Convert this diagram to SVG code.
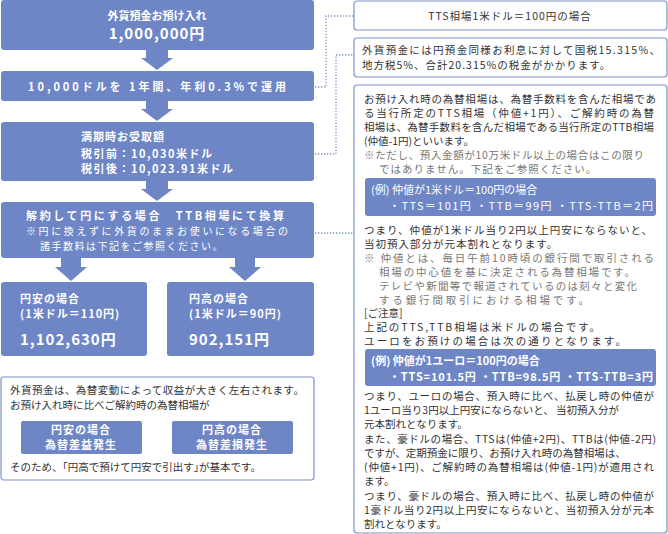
<svg xmlns="http://www.w3.org/2000/svg" width="668" height="534" viewBox="0 0 668 534">
<style>
.b{fill:#6e86c6}
.w{fill:#fff;font-family:"Noto Sans CJK JP","Liberation Sans",sans-serif;font-weight:bold;font-size:11px}
.big{font-size:15px;letter-spacing:1px}
.sm{font-size:10px;font-weight:normal}
.t{fill:#333;font-family:"Noto Sans CJK JP","Liberation Sans",sans-serif;font-size:10.5px}
.g{fill:#777;font-family:"Noto Sans CJK JP","Liberation Sans",sans-serif;font-size:10.5px}
.o{fill:#fff;stroke:#7e92c9;stroke-width:1.2}
.c{fill:none;stroke:#7e92c9;stroke-width:1.3;stroke-dasharray:1.3 1.7}
</style>
<rect width="668" height="534" fill="#fff"/>
<g id="connectors">
<polyline class="c" points="315,87 326,87 326,16 354,16"/>
<polyline class="c" points="315,154 336,154 336,55 354,55"/>
<polyline class="c" points="315,233 354,233"/>
<polygon class="b" points="146,50 168,50 168,58 173,58 157,70 141,58 146,58"/>
<polygon class="b" points="146,101 168,101 168,109 173,109 157,121 141,109 146,109"/>
<polygon class="b" points="146,181 168,181 168,189 173,189 157,201 141,189 146,189"/>
<polygon class="b" points="61,258 81,258 81,267 87,267 71,281 55,267 61,267"/>
<polygon class="b" points="235,258 255,258 255,267 261,267 245,281 229,267 235,267"/>
</g>
<g id="n1"><rect class="b" x="1" y="0" width="313" height="50" rx="3"/>
<text class="w" x="157" y="20" text-anchor="middle">外貨預金お預け入れ</text>
<text class="w big" x="157" y="39" text-anchor="middle">1,000,000円</text></g>
<g id="n2"><rect class="b" x="1" y="71" width="313" height="30" rx="3"/>
<text class="w" x="157" y="91" text-anchor="middle" textLength="258">10,000ドルを 1年間、年利0.3%で運用</text></g>
<g id="n3"><rect class="b" x="1" y="122" width="313" height="59" rx="3"/>
<text class="w" x="81" y="141" letter-spacing="1">満期時お受取額</text>
<text class="w" x="81" y="158" letter-spacing="1.5">税引前：10,030米ドル</text>
<text class="w" x="81" y="173" letter-spacing="1.5">税引後：10,023.91米ドル</text></g>
<g id="n4"><rect class="b" x="1" y="202" width="313" height="56" rx="3"/>
<text class="w" x="26" y="220" textLength="258">解約して円にする場合　TTB相場にて換算</text>
<text class="w sm" x="26" y="235" textLength="262">※円に換えずに外貨のままお使いになる場合の</text>
<text class="w sm" x="40" y="250" letter-spacing="1.5">諸手数料は下記をご参照ください。</text></g>
<g id="n5"><rect class="b" x="1" y="282" width="146" height="74" rx="3"/>
<text class="w" x="20" y="303" letter-spacing="1">円安の場合</text>
<text class="w" x="20" y="318" letter-spacing="1">(1米ドル＝110円)</text>
<text class="w big" x="20" y="345">1,102,630円</text></g>
<g id="n6"><rect class="b" x="167" y="282" width="147" height="74" rx="3"/>
<text class="w" x="189" y="303" letter-spacing="1">円高の場合</text>
<text class="w" x="189" y="318" letter-spacing="1">(1米ドル＝90円)</text>
<text class="w big" x="189" y="345">902,151円</text></g>
<g id="n7"><rect class="o" x="1" y="377" width="313" height="103" rx="3"/>
<text class="t" x="10" y="394" textLength="294">外貨預金は、為替変動によって収益が大きく左右されます。</text>
<text class="t" x="10" y="409">お預け入れ時に比べご解約時の為替相場が</text>
<rect class="b" x="21" y="421" width="121" height="33" rx="2"/>
<text class="w" x="81" y="434" text-anchor="middle" letter-spacing="1">円安の場合</text>
<text class="w" x="81" y="449" text-anchor="middle" letter-spacing="1">為替差益発生</text>
<rect class="b" x="172" y="421" width="121" height="33" rx="2"/>
<text class="w" x="232" y="434" text-anchor="middle" letter-spacing="1">円高の場合</text>
<text class="w" x="232" y="449" text-anchor="middle" letter-spacing="1">為替差損発生</text>
<text class="t" x="10" y="471">そのため、｢円高で預けて円安で引出す｣が基本です。</text></g>
<g id="r1"><rect class="o" x="354" y="1" width="313" height="29" rx="3"/>
<text class="t" x="510" y="20" text-anchor="middle" letter-spacing="1">TTS相場1米ドル＝100円の場合</text></g>
<g id="r2"><rect class="o" x="354" y="38" width="313" height="39" rx="3"/>
<text class="t" x="362" y="54" textLength="298">外貨預金には円預金同様お利息に対して国税15.315%、</text>
<text class="t" x="362" y="69" letter-spacing="1">地方税5%、合計20.315%の税金がかかります。</text></g>
<g id="r3"><rect class="o" x="354" y="85" width="313" height="448" rx="3"/>
<text class="t" x="364" y="103" textLength="292">お預け入れ時の為替相場は、為替手数料を含んだ相場であ</text>
<text class="t" x="364" y="117" textLength="290">る当行所定のTTS相場（仲値+1円）、ご解約時の為替</text>
<text class="t" x="364" y="131" textLength="290">相場は、為替手数料を含んだ相場である当行所定のTTB相場</text>
<text class="t" x="364" y="145">(仲値-1円)といいます。</text>
<text class="g" x="364" y="159" textLength="280">※ただし、預入金額が10万米ドル以上の場合はこの限り</text>
<text class="g" x="379" y="173" letter-spacing="1">ではありません。下記をご参照ください。</text>
<rect class="b" x="365" y="178" width="291" height="38" rx="3"/>
<text class="w sm" x="371" y="194" style="font-size:11px">(例) 仲値が1米ドル＝100円の場合</text>
<text class="w sm" x="389" y="210" style="font-size:11px" textLength="264">・TTS＝101円 ・TTB＝99円 ・TTS-TTB＝2円</text>
<text class="t" x="364" y="234" textLength="288">つまり、仲値が1米ドル当り2円以上円安にならないと、</text>
<text class="t" x="364" y="248" letter-spacing="1">当初預入部分が元本割れとなります。</text>
<text class="g" x="364" y="262" textLength="290">※ 仲値とは、毎日午前10時頃の銀行間で取引される</text>
<text class="g" x="379" y="276" textLength="256">相場の中心値を基に決定される為替相場です。</text>
<text class="g" x="379" y="290" textLength="258">テレビや新聞等で報道されているのは刻々と変化</text>
<text class="g" x="379" y="304" textLength="210">する銀行間取引における相場です。</text>
<text class="t" x="364" y="317">[ご注意]</text>
<text class="t" x="364" y="331" textLength="236">上記のTTS,TTB相場は米ドルの場合です。</text>
<text class="t" x="364" y="345" textLength="262">ユーロをお預けの場合は次の通りとなります。</text>
<rect class="b" x="365" y="349" width="291" height="37" rx="3"/>
<text class="w" x="371" y="365">(例) 仲値が1ユーロ＝100円の場合</text>
<text class="w" x="389" y="381" textLength="264">・TTS=101.5円 ・TTB=98.5円 ・TTS-TTB=3円</text>
<text class="t" x="364" y="400" textLength="290">つまり、ユーロの場合、預入時に比べ、払戻し時の仲値が</text>
<text class="t" x="364" y="414">1ユーロ当り3円以上円安にならないと、 当初預入分が</text>
<text class="t" x="364" y="428">元本割れとなります。</text>
<text class="t" x="364" y="443" textLength="292">また、豪ドルの場合、TTSは(仲値+2円)、TTBは(仲値-2円)</text>
<text class="t" x="364" y="457">ですが、定期預金に限り、お預け入れ時の為替相場は、</text>
<text class="t" x="364" y="471" textLength="290">(仲値+1円)、ご解約時の為替相場は(仲値-1円)が適用され</text>
<text class="t" x="364" y="485">ます。</text>
<text class="t" x="364" y="500" textLength="290">つまり、豪ドルの場合、預入時に比べ、払戻し時の仲値が</text>
<text class="t" x="364" y="514" textLength="290">1豪ドル当り2円以上円安にならないと、当初預入分が元本</text>
<text class="t" x="364" y="528">割れとなります。</text></g>
</svg>
